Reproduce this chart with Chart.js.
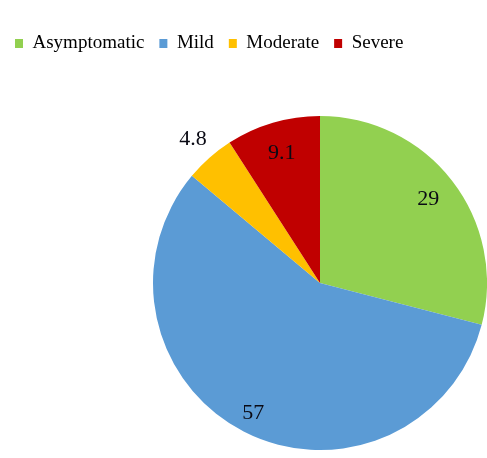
<!DOCTYPE html>
<html>
<head>
<meta charset="utf-8">
<script src="https://cdn.jsdelivr.net/npm/chart.js@4.4.1/dist/chart.umd.min.js"></script>
<style>
  body { margin: 0; background: #fff; }
  canvas { display: block; }
</style>
</head>
<body>
<canvas id="grafico" width="487" height="458"></canvas>
<script>
const categorias = ['Asymptomatic', 'Mild', 'Moderate', 'Severe'];
const valores = [29, 57, 4.8, 9.1];
const rotulos = ['29', '57', '4.8', '9.1'];
const cores = ['#92D050', '#5B9BD5', '#FFC000', '#C00000'];

// distance of each value label from the centre, as a fraction of the radius
const distRotulo = [0.82, 0.875, 1.15, 0.81];

// the pie sits to the right of the legend's left edge, so move the plot area
const areaPlugin = {
  id: 'area',
  afterLayout(chart) {
    const a = { left: 153, top: 116, right: 487, bottom: 450 };
    a.width = a.right - a.left;
    a.height = a.bottom - a.top;
    chart.chartArea = a;
  }
};

const rotulosPlugin = {
  id: 'rotulos',
  afterDatasetsDraw(chart) {
    const ctx = chart.ctx;
    const arcs = chart.getDatasetMeta(0).data;
    ctx.save();
    ctx.font = '22px "Liberation Serif", "Times New Roman", serif';
    ctx.fillStyle = '#0a0a14';
    ctx.textAlign = 'center';
    ctx.textBaseline = 'middle';
    arcs.forEach((arc, i) => {
      const p = arc.getProps(['x', 'y', 'startAngle', 'endAngle', 'outerRadius'], true);
      const meio = (p.startAngle + p.endAngle) / 2;
      const r = p.outerRadius * distRotulo[i];
      ctx.fillText(rotulos[i], p.x + Math.cos(meio) * r, p.y + Math.sin(meio) * r);
    });
    ctx.restore();
  }
};

new Chart(document.getElementById('grafico'), {
  type: 'pie',
  data: {
    labels: categorias,
    datasets: [{
      data: valores,
      backgroundColor: cores,
      borderWidth: 0
    }]
  },
  options: {
    responsive: false,
    animation: false,
    layout: { padding: { top: 19 } },
    plugins: {
      tooltip: { enabled: false },
      legend: {
        position: 'top',
        align: 'start',
        labels: {
          boxWidth: 8,
          boxHeight: 9,
          padding: 15,
          color: '#000',
          font: { family: '"Liberation Serif", "Times New Roman", serif', size: 19 }
        }
      }
    }
  },
  plugins: [areaPlugin, rotulosPlugin]
});
</script>
</body>
</html>
